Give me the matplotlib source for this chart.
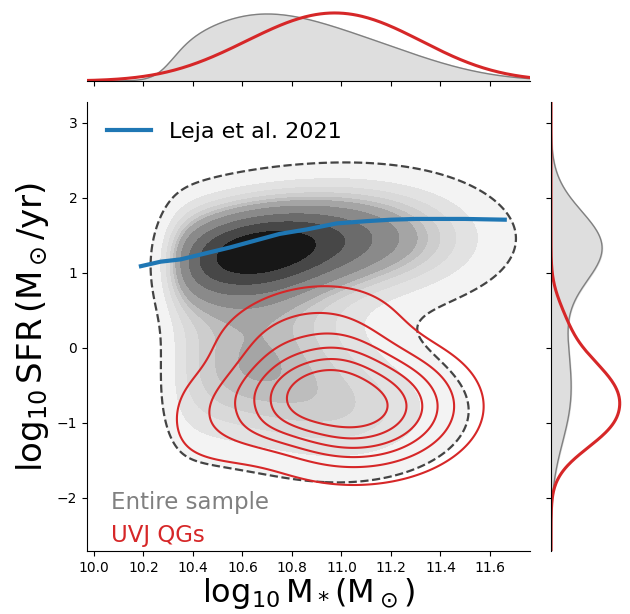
import numpy as np
import math
import matplotlib.pyplot as plt
from matplotlib.lines import Line2D

# Leja et al. 2021 star-forming ridge
leja_mass = [10.19, 10.27, 10.35, 10.45, 10.55, 10.65, 10.75, 10.86, 10.98, 11.1, 11.2, 11.3, 11.4, 11.5, 11.66]
leja_sfr = [1.09, 1.15, 1.18, 1.26, 1.34, 1.43, 1.52, 1.58, 1.66, 1.69, 1.71, 1.72, 1.72, 1.72, 1.71]

# entire sample density, described as blobs (mass, sfr, widths, tilt, weight)
all_mx = [10.64, 11.18, 10.52, 11.00, 10.65]
all_my = [1.29, 1.45, -0.50, -0.85, 0.20]
all_sx = [0.31, 0.28, 0.28, 0.30, 0.30]
all_sy = [0.47, 0.48, 0.60, 0.55, 0.60]
all_rho = [0.25, 0.0, 0.30, 0.0, 0.0]
all_w = [0.44, 0.16, 0.10, 0.15, 0.15]
all_shape = 2.0
mass_cut, mass_cut_width = 10.30, 0.07

# UVJ quiescent galaxies
qg_mx = [11.05, 10.86, 10.60]
qg_my = [-0.78, 0.10, -0.85]
qg_sx = [0.29, 0.25, 0.22]
qg_sy = [0.58, 0.50, 0.45]
qg_rho = [0.0, 0.20, 0.20]
qg_w = [0.70, 0.18, 0.12]
qg_shape = 2.6
qg_marg_extra_bw = 0.2

gray_bands = ['#f3f3f3', '#e2e2e2', '#d9d9d9', '#cdcdcd', '#bdbdbd',
              '#a5a5a5', '#8a8a8a', '#6b6b6b', '#474747', '#171717']
red = '#d62728'


def mixture(X, Y, mx, my, sx, sy, rho, w, beta):
    # sum of elliptical exp(-0.5 r^beta) blobs, each with unit mass
    norm = 2*np.pi * 2**(2/beta) * math.gamma(2/beta) / beta
    Z = np.zeros_like(X)
    for a, b, c, d, r, k in zip(mx, my, sx, sy, rho, w):
        u = (X - a) / c
        v = (Y - b) / d
        q = (u**2 - 2*r*u*v + v**2) / (1 - r**2)
        Z += k * np.exp(-0.5*q**(beta/2)) / (norm*c*d*np.sqrt(1 - r**2))
    return Z


def iso_levels(Z, props):
    vals = np.sort(Z.ravel())[::-1]
    cum = np.cumsum(vals) / vals.sum()
    idx = np.searchsorted(cum, 1 - np.asarray(props))
    return np.take(vals, idx, mode='clip')


def smooth(p, step, bw):
    if bw <= 0:
        return p
    k = np.arange(-int(4*bw/step), int(4*bw/step) + 1) * step
    ker = np.exp(-0.5*(k/bw)**2)
    return np.convolve(p, ker / ker.sum(), mode='same')


xg = np.linspace(9.3, 12.4, 500)
yg = np.linspace(-3.5, 4.1, 450)
X, Y = np.meshgrid(xg, yg)
dx, dy = xg[1] - xg[0], yg[1] - yg[0]
cut = 1 / (1 + np.exp(-1.7*(X - mass_cut)/mass_cut_width))

Z_all = mixture(X, Y, all_mx, all_my, all_sx, all_sy, all_rho, all_w, all_shape) * cut
Z_qg = mixture(X, Y, qg_mx, qg_my, qg_sx, qg_sy, qg_rho, qg_w, qg_shape) * cut

fig = plt.figure(figsize=(6.3, 6.14), dpi=100)
ax = fig.add_axes([87/630, 63/614, 443/630, 449/614])
axx = fig.add_axes([87/630, 533/614, 443/630, 81/614], sharex=ax)
axy = fig.add_axes([551/630, 63/614, 79/630, 449/614], sharey=ax)

lv = iso_levels(Z_all, np.linspace(0.05, 1, 11))
lv[-1] = Z_all.max() * 1.001
ax.contourf(X, Y, Z_all, levels=lv, colors=gray_bands)
ax.contour(X, Y, Z_all, levels=lv[:1], colors='#444444', linewidths=1.6, linestyles='--')

lq = iso_levels(Z_qg, [0.05, 0.2, 0.35, 0.5, 0.65, 0.8])
ax.contour(X, Y, Z_qg, levels=lq, colors=red, linewidths=1.5)

ax.plot(leja_mass, leja_sfr, color='#1f77b4', lw=3)
ax.legend([Line2D([], [], color='#1f77b4', lw=3)], ['Leja et al. 2021'],
          loc='upper left', frameon=False, fontsize=16)
ax.text(0.055, 0.107, 'Entire sample', color='gray', fontsize=16.5,
        transform=ax.transAxes, va='center')
ax.text(0.055, 0.035, 'UVJ QGs', color=red, fontsize=16.5,
        transform=ax.transAxes, va='center')

ax.set_xlim(9.972, 11.762)
ax.set_ylim(-2.71, 3.28)
ax.set_xticks(np.arange(10.0, 11.61, 0.2))
ax.set_yticks([-2, -1, 0, 1, 2, 3])
ax.tick_params(labelsize=10)
ax.set_xlabel(r'$\mathrm{log_{10}\,M_*(M_\odot)}$', fontsize=23, labelpad=1)
ax.set_ylabel(r'$\mathrm{log_{10}\,SFR\,(M_\odot/yr)}$', fontsize=24.5, labelpad=4)
for s in ['top', 'right']:
    ax.spines[s].set_visible(False)

# marginals
px_all = Z_all.sum(axis=0) * dy
px_all /= px_all.sum() * dx
px_qg = smooth(Z_qg.sum(axis=0) * dy, dx, qg_marg_extra_bw)
px_qg /= px_qg.sum() * dx
py_all = Z_all.sum(axis=1) * dx
py_all /= py_all.sum() * dy
py_qg = Z_qg.sum(axis=1) * dx
py_qg /= py_qg.sum() * dy

axx.fill_between(xg, px_all, color='#dedede')
axx.plot(xg, px_all, color='gray', lw=1)
axx.plot(xg, px_qg, color=red, lw=2.2)
axx.set_ylim(0, max(px_all.max(), px_qg.max()) / 0.84)
axx.tick_params(labelbottom=False, left=False, labelleft=False)
for s in ['top', 'right', 'left']:
    axx.spines[s].set_visible(False)

axy.fill_betweenx(yg, py_all, color='#dedede')
axy.plot(py_all, yg, color='gray', lw=1)
axy.plot(py_qg, yg, color=red, lw=2.2)
axy.set_xlim(0, max(py_all.max(), py_qg.max()) / 0.87)
axy.tick_params(labelleft=False, bottom=False, labelbottom=False)
for s in ['top', 'right', 'bottom']:
    axy.spines[s].set_visible(False)

fig.savefig('out.png', dpi=100)
